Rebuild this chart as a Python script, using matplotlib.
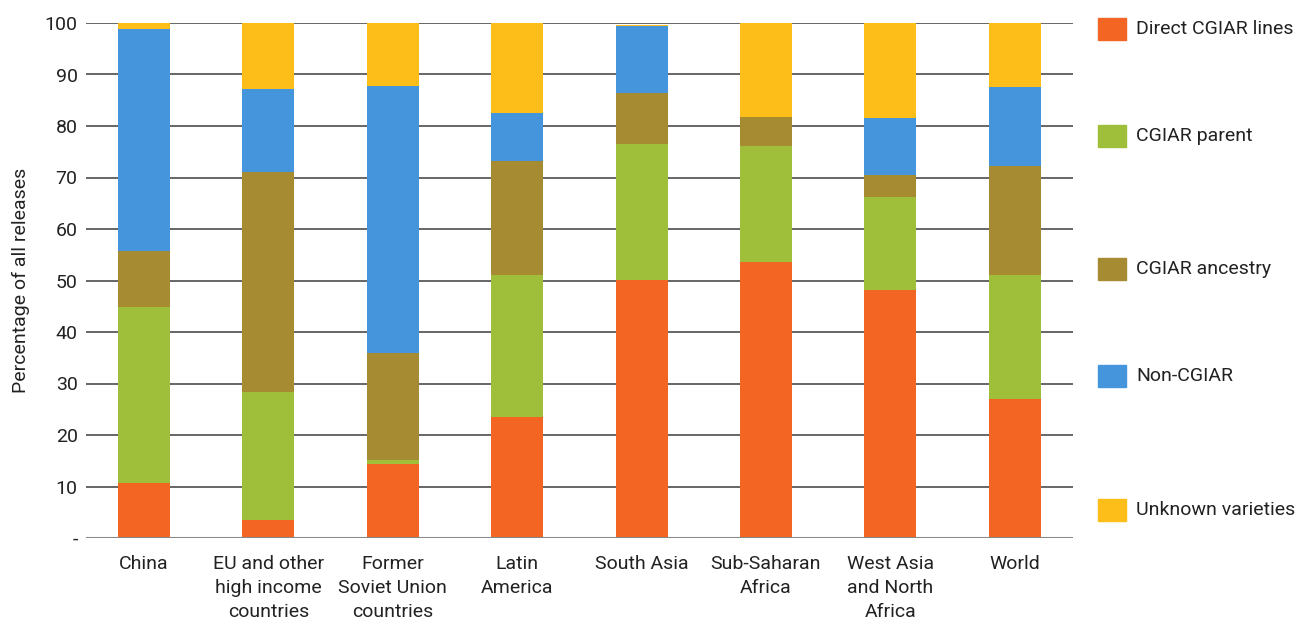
import matplotlib
matplotlib.use("Agg")
import matplotlib.pyplot as plt
from matplotlib.patches import Rectangle
import numpy as np

plt.rcParams['font.family'] = ['Roboto', 'DejaVu Sans']

categories = ["China", "EU and other\nhigh income\ncountries", "Former\nSoviet Union\ncountries",
              "Latin\nAmerica", "South Asia", "Sub-Saharan\nAfrica", "West Asia\nand North\nAfrica", "World"]
series_names = ["Direct CGIAR lines", "CGIAR parent", "CGIAR ancestry", "Non-CGIAR", "Unknown varieties"]
direct   = [10.7, 3.4, 14.3, 23.4, 50.1, 53.6, 48.1, 26.9]
parent   = [34.2, 24.9, 0.9, 27.7, 26.4, 22.5, 18.1, 24.2]
ancestry = [10.8, 42.8, 20.8, 22.2, 9.9, 5.6, 4.3, 21.1]
noncgiar = [43.2, 16.0, 51.7, 9.3, 13.1, 0.0, 11.1, 15.3]
unknown  = [1.1, 12.9, 12.3, 17.4, 0.2, 18.3, 18.4, 12.5]
yticks = [0, 10, 20, 30, 40, 50, 60, 70, 80, 90, 100]
ytick_labels = ["-", "10", "20", "30", "40", "50", "60", "70", "80", "90", "100"]
colors = ["#F26522", "#9FBF3B", "#A68B32", "#4595DC", "#FEBE19"]

fig = plt.figure(figsize=(12.98, 6.29), dpi=100)
ax = fig.add_axes([86/1298, 1-538/629, (1073-86)/1298, (538-23)/629])

x = np.arange(len(categories))
bottom = np.zeros(len(categories))
for vals, c in zip([direct, parent, ancestry, noncgiar, unknown], colors):
    ax.bar(x, vals, bottom=bottom, width=0.418, color=c, zorder=3)
    bottom += np.array(vals)

ax.set_xlim(-0.466, 7.468)
ax.set_ylim(0, 100)
ax.set_yticks(yticks)
ax.set_yticklabels(ytick_labels, fontsize=14, color="#222222")
for y in yticks[1:]:
    ax.axhline(y, color="#5a5a5a", lw=1.3, zorder=1)
ax.axhline(0, color="#888888", lw=2.2, zorder=4)
ax.tick_params(axis='y', length=0, pad=6)
ax.tick_params(axis='x', length=0, pad=12)
ax.set_xticks(x)
ax.set_xticklabels(categories, fontsize=14, color="#222222", linespacing=1.45, va='top')
for s in ax.spines.values():
    s.set_visible(False)
ax.set_ylabel("Percentage of all releases", fontsize=14, color="#222222")
ax.yaxis.set_label_coords(-56/987, 0.5)

# legend with irregular spacing, as in the reference
legend_y = [29, 136, 269, 376, 510]
for name, c, yc in zip(series_names, colors, legend_y):
    fig.patches.append(Rectangle((1098/1298, 1-(yc+11)/629), 28/1298, 22/629,
                                 transform=fig.transFigure, color=c, figure=fig))
    fig.text(1136/1298, 1-yc/629, name, fontsize=14, color="#222222", va='center', ha='left')

fig.savefig("out.png", dpi=100)
